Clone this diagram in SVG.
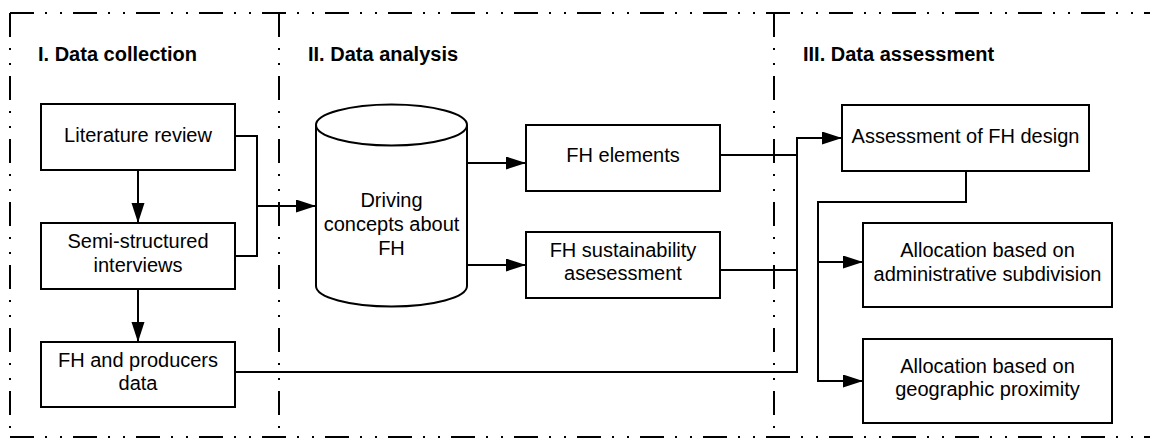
<svg xmlns="http://www.w3.org/2000/svg" width="1150" height="439" viewBox="0 0 1150 439">
<defs>
<style>
.frame{fill:none;stroke:#000;stroke-width:2;stroke-dasharray:24 11 2 13 2 11}
.node{fill:#fff;stroke:#000;stroke-width:2}
.t{font-family:"Liberation Sans",Arial,sans-serif;font-size:20px;fill:#000;text-anchor:middle}
.h{font-family:"Liberation Sans",Arial,sans-serif;font-size:20px;font-weight:bold;fill:#000}
.c{fill:none;stroke:#000;stroke-width:2}
</style>
<marker id="arr" markerUnits="userSpaceOnUse" markerWidth="20" markerHeight="14" refX="20" refY="6.5" orient="auto">
<path d="M0,0 L20,6.5 L0,13 Z" fill="#000"/>
</marker>
</defs>
<rect width="1150" height="439" fill="#fff"/>
<g id="frame">
<line class="frame" x1="10" y1="13" x2="1160" y2="13"/>
<line class="frame" x1="10" y1="13" x2="10" y2="437"/>
<line class="frame" x1="10" y1="437" x2="1160" y2="437"/>
<line class="frame" x1="279" y1="13" x2="279" y2="437"/>
<line class="frame" x1="774" y1="13" x2="774" y2="437"/>
</g>
<g id="titles">
<text class="h" x="38" y="61">I. Data collection</text>
<text class="h" x="308" y="61">II. Data analysis</text>
<text class="h" x="803" y="61">III. Data assessment</text>
</g>
<g id="connectors">
<path class="c" d="M235,136 H257 V206 H316" marker-end="url(#arr)"/>
<path class="c" d="M235,256 H257 V206"/>
<path class="c" d="M138,170 V223" marker-end="url(#arr)"/>
<path class="c" d="M138,289 V342" marker-end="url(#arr)"/>
<path class="c" d="M467,163 H526" marker-end="url(#arr)"/>
<path class="c" d="M467,265 H526" marker-end="url(#arr)"/>
<path class="c" d="M235,372 H797 V138 H842" marker-end="url(#arr)"/>
<path class="c" d="M720,155 H797"/>
<path class="c" d="M720,270 H797"/>
<path class="c" d="M966,171 V202 H818 V381 H863" marker-end="url(#arr)"/>
<path class="c" d="M818,262 H863" marker-end="url(#arr)"/>
</g>
<g id="literature-review">
<rect class="node" x="41" y="104" width="194" height="66"/>
<text class="t" x="138" y="142">Literature review</text>
</g>
<g id="semi-structured-interviews">
<rect class="node" x="41" y="223" width="194" height="66"/>
<text class="t" x="138" y="248">Semi-structured</text>
<text class="t" x="138" y="272">interviews</text>
</g>
<g id="fh-producers-data">
<rect class="node" x="41" y="342" width="194" height="65"/>
<text class="t" x="138" y="367">FH and producers</text>
<text class="t" x="138" y="390">data</text>
</g>
<g id="driving-concepts">
<path class="node" d="M316,125 A75.5,20.5 0 0 1 467,125 V286 A75.5,20.5 0 0 1 316,286 Z"/>
<path class="c" d="M316,125 A75.5,20.5 0 0 0 467,125"/>
<text class="t" x="391.5" y="207">Driving</text>
<text class="t" x="391.5" y="231">concepts about</text>
<text class="t" x="391.5" y="255">FH</text>
</g>
<g id="fh-elements">
<rect class="node" x="526" y="125" width="194" height="66"/>
<text class="t" x="623" y="162">FH elements</text>
</g>
<g id="fh-sustainability">
<rect class="node" x="526" y="232" width="194" height="66"/>
<text class="t" x="623" y="257">FH sustainability</text>
<text class="t" x="623" y="280">asesessment</text>
</g>
<g id="assessment-fh-design">
<rect class="node" x="842" y="105" width="247" height="66"/>
<text class="t" x="965.5" y="143">Assessment of FH design</text>
</g>
<g id="allocation-admin">
<rect class="node" x="863" y="223" width="249" height="84"/>
<text class="t" x="987.5" y="257">Allocation based on</text>
<text class="t" x="987.5" y="281">administrative subdivision</text>
</g>
<g id="allocation-geo">
<rect class="node" x="863" y="339" width="249" height="84"/>
<text class="t" x="987.5" y="373">Allocation based on</text>
<text class="t" x="987.5" y="396">geographic proximity</text>
</g>
</svg>
